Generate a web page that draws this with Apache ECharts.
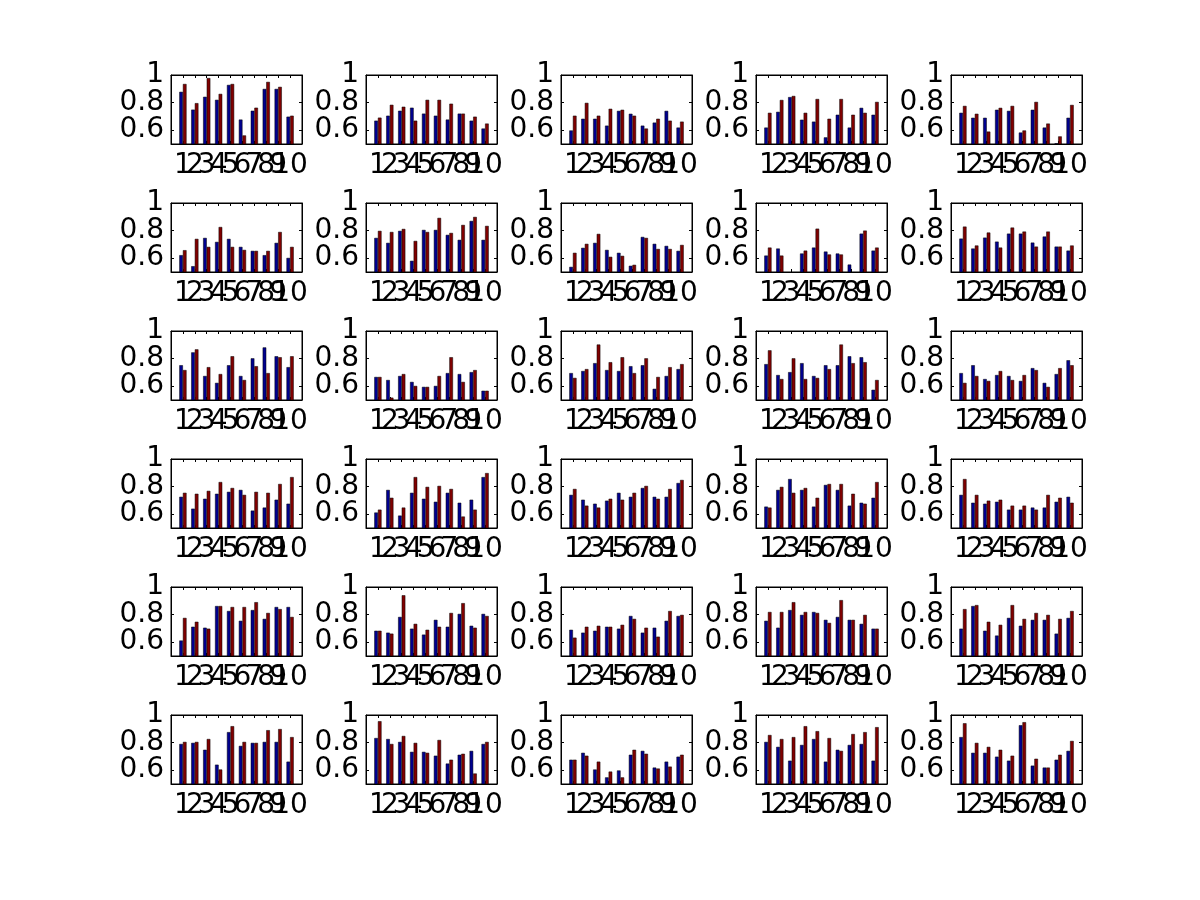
<!DOCTYPE html>
<html>
<head>
<meta charset="utf-8">
<script src="https://cdn.jsdelivr.net/npm/echarts@6/dist/echarts.min.js"></script>
<style>
html,body{margin:0;padding:0;background:#fff;}
#chart{width:1200px;height:900px;}
</style>
</head>
<body>
<div id="chart"></div>
<script>
// Group positions (x categories) and tick labels
const categories = ['1', '2', '3', '4', '5', '6', '7', '8', '9', '10'];
const yTicks = [0.6, 0.8, 1];

// Blue series values, one list per subplot (row-major, 6 rows x 5 columns)
const blue = [
  [0.878,0.749,0.842,0.820,0.928,0.677,0.741,0.899,0.899,0.698],
  [0.669,0.705,0.741,0.763,0.720,0.705,0.677,0.720,0.669,0.612],
  [0.598,0.683,0.683,0.633,0.740,0.719,0.633,0.655,0.740,0.619],
  [0.619,0.733,0.840,0.676,0.662,0.548,0.712,0.619,0.762,0.712],
  [0.726,0.690,0.690,0.748,0.740,0.583,0.748,0.619,0.505,0.690],

  [0.622,0.542,0.747,0.718,0.740,0.682,0.653,0.622,0.711,0.602],
  [0.747,0.711,0.798,0.581,0.805,0.805,0.769,0.733,0.870,0.733],
  [0.537,0.675,0.711,0.660,0.639,0.545,0.754,0.704,0.689,0.653],
  [0.619,0.670,0.450,0.634,0.677,0.648,0.634,0.554,0.778,0.655],
  [0.742,0.670,0.749,0.720,0.778,0.778,0.713,0.757,0.684,0.655],

  [0.752,0.845,0.674,0.624,0.752,0.674,0.802,0.881,0.817,0.738],
  [0.667,0.645,0.674,0.631,0.595,0.602,0.695,0.688,0.702,0.567],
  [0.695,0.710,0.767,0.717,0.710,0.745,0.752,0.581,0.674,0.724],
  [0.760,0.681,0.702,0.767,0.674,0.752,0.752,0.817,0.810,0.574],
  [0.695,0.752,0.652,0.681,0.674,0.638,0.731,0.624,0.688,0.788],

  [0.726,0.640,0.712,0.748,0.762,0.776,0.626,0.648,0.705,0.676],
  [0.612,0.776,0.590,0.755,0.712,0.690,0.755,0.683,0.705,0.869],
  [0.740,0.705,0.676,0.698,0.755,0.726,0.790,0.726,0.726,0.826],
  [0.655,0.776,0.855,0.776,0.655,0.812,0.776,0.662,0.683,0.719],
  [0.740,0.683,0.676,0.690,0.633,0.633,0.648,0.648,0.690,0.726],

  [0.612,0.712,0.705,0.862,0.826,0.755,0.833,0.769,0.855,0.855],
  [0.683,0.669,0.783,0.698,0.655,0.762,0.712,0.805,0.719,0.805],
  [0.690,0.669,0.683,0.712,0.698,0.790,0.669,0.705,0.755,0.790],
  [0.755,0.705,0.833,0.798,0.819,0.762,0.783,0.762,0.733,0.698],
  [0.698,0.862,0.683,0.648,0.776,0.719,0.762,0.762,0.662,0.776],

  [0.790,0.798,0.748,0.640,0.876,0.776,0.798,0.805,0.805,0.662],
  [0.833,0.826,0.805,0.733,0.733,0.705,0.648,0.712,0.740,0.790],
  [0.676,0.726,0.605,0.548,0.598,0.712,0.740,0.619,0.662,0.698],
  [0.805,0.769,0.669,0.783,0.826,0.662,0.748,0.783,0.790,0.669],
  [0.840,0.726,0.726,0.698,0.669,0.926,0.633,0.619,0.676,0.740]
];

// Red series values, one list per subplot
const red = [
  [0.935,0.796,0.978,0.863,0.935,0.562,0.763,0.950,0.914,0.705],
  [0.691,0.784,0.770,0.669,0.820,0.820,0.792,0.720,0.698,0.648],
  [0.705,0.798,0.705,0.755,0.748,0.705,0.612,0.683,0.669,0.662],
  [0.726,0.819,0.848,0.726,0.826,0.683,0.826,0.712,0.726,0.805],
  [0.776,0.719,0.590,0.762,0.776,0.598,0.805,0.648,0.555,0.783],

  [0.658,0.740,0.682,0.826,0.682,0.660,0.653,0.653,0.790,0.682],
  [0.798,0.790,0.812,0.725,0.790,0.892,0.783,0.841,0.899,0.834],
  [0.639,0.704,0.776,0.610,0.617,0.552,0.747,0.667,0.667,0.696],
  [0.677,0.619,0.450,0.655,0.814,0.627,0.627,0.480,0.800,0.677],
  [0.829,0.692,0.786,0.677,0.822,0.793,0.684,0.793,0.684,0.692],

  [0.717,0.867,0.738,0.688,0.817,0.645,0.745,0.695,0.810,0.817],
  [0.667,0.517,0.688,0.602,0.595,0.674,0.810,0.631,0.717,0.567],
  [0.660,0.724,0.902,0.774,0.810,0.695,0.802,0.667,0.738,0.760],
  [0.860,0.652,0.802,0.652,0.660,0.724,0.902,0.767,0.774,0.645],
  [0.624,0.674,0.638,0.710,0.645,0.681,0.717,0.595,0.731,0.752],

  [0.755,0.748,0.769,0.833,0.790,0.740,0.762,0.755,0.819,0.869],
  [0.633,0.719,0.648,0.869,0.798,0.805,0.783,0.583,0.633,0.898],
  [0.783,0.662,0.648,0.712,0.705,0.755,0.805,0.712,0.783,0.848],
  [0.648,0.798,0.755,0.790,0.719,0.819,0.819,0.748,0.676,0.833],
  [0.855,0.740,0.698,0.705,0.662,0.662,0.633,0.740,0.719,0.683],

  [0.776,0.748,0.698,0.862,0.855,0.855,0.890,0.812,0.840,0.783],
  [0.683,0.662,0.940,0.733,0.690,0.712,0.812,0.883,0.705,0.790],
  [0.633,0.712,0.719,0.712,0.726,0.769,0.705,0.640,0.826,0.798],
  [0.819,0.819,0.890,0.819,0.812,0.740,0.905,0.762,0.798,0.698],
  [0.840,0.869,0.748,0.726,0.869,0.769,0.812,0.798,0.769,0.826],

  [0.805,0.805,0.826,0.605,0.919,0.805,0.798,0.890,0.898,0.840],
  [0.955,0.790,0.848,0.798,0.726,0.819,0.676,0.719,0.576,0.805],
  [0.676,0.705,0.662,0.590,0.548,0.748,0.719,0.612,0.626,0.712],
  [0.855,0.826,0.840,0.919,0.883,0.833,0.740,0.862,0.876,0.912],
  [0.940,0.798,0.769,0.748,0.705,0.948,0.683,0.619,0.712,0.812]
];

const ROWS = 6, COLS = 5;
const FONT = '"DejaVu Sans", "Liberation Sans", Arial, sans-serif';
// x axis spans 0..11 (MATLAB bar limits): empty slots at both ends
const xCats = [''].concat(categories, ['']);
// ECharts hides one of two overlapping neighbour labels on a value axis,
// so the tick labels are split over two coincident left axes.
const yLabelSets = [[yTicks[1]], [yTicks[0], yTicks[2]]];
const grids = [], xAxes = [], yAxes = [], series = [];

for (let r = 0; r < ROWS; r++) {
  for (let c = 0; c < COLS; c++) {
    const i = r * COLS + c;
    grids.push({
      left: 171 + c * 195, top: 75 + r * 128, width: 131, height: 69,
      show: true, borderColor: '#000', borderWidth: 1, backgroundColor: '#fff'
    });
    const xBase = {
      type: 'category', gridIndex: i, data: xCats, boundaryGap: false,
      splitLine: { show: false },
      axisLine: { show: true, onZero: false, lineStyle: { color: '#000', width: 1 } },
      axisTick: { show: true, inside: true, length: 3, interval: 0, lineStyle: { color: '#000' } }
    };
    xAxes.push(Object.assign({}, xBase, {
      position: 'bottom',
      axisLabel: { show: true, interval: 0, hideOverlap: false,
                   color: '#000', fontSize: 28, fontFamily: FONT, margin: 8 }
    }));
    xAxes.push(Object.assign({}, xBase, {
      position: 'top', axisLabel: { show: false }
    }));
    const yBase = {
      type: 'value', gridIndex: i, min: 0.5, max: 1,
      splitLine: { show: false },
      axisLine: { show: true, onZero: false, lineStyle: { color: '#000', width: 1 } },
      axisTick: { show: true, inside: true, length: 3, customValues: yTicks, lineStyle: { color: '#000' } }
    };
    yLabelSets.forEach((vals, k) => {
      yAxes.push(Object.assign({}, yBase, {
        position: 'left', offset: 0,
        axisLine: k === 0 ? yBase.axisLine : { show: false },
        axisTick: k === 0 ? yBase.axisTick : { show: false },
        axisLabel: { show: true, customValues: vals, showMinLabel: true, showMaxLabel: true, hideOverlap: false,
                     color: '#000', fontSize: 28, fontFamily: FONT, margin: 7,
                     formatter: v => String(+v.toFixed(1)) }
      }));
    });
    yAxes.push(Object.assign({}, yBase, {
      position: 'right', axisLabel: { show: false }
    }));
    const mk = (vals, color, name) => ({
      type: 'bar', name: name, xAxisIndex: i * 2, yAxisIndex: i * 3,
      data: categories.map((x, k) => [x, vals[k]]),
      barWidth: 3.6, barGap: '0%', clip: true,
      itemStyle: { color: color, borderColor: '#000', borderWidth: 0.5 },
      silent: true
    });
    series.push(mk(blue[i], '#00008f', 'A'));
    series.push(mk(red[i], '#800000', 'B'));
  }
}

const chart = echarts.init(document.getElementById('chart'), null, { renderer: 'canvas' });
chart.setOption({
  backgroundColor: '#fff',
  animation: false,
  grid: grids,
  xAxis: xAxes,
  yAxis: yAxes,
  series: series
});
</script>
</body>
</html>
